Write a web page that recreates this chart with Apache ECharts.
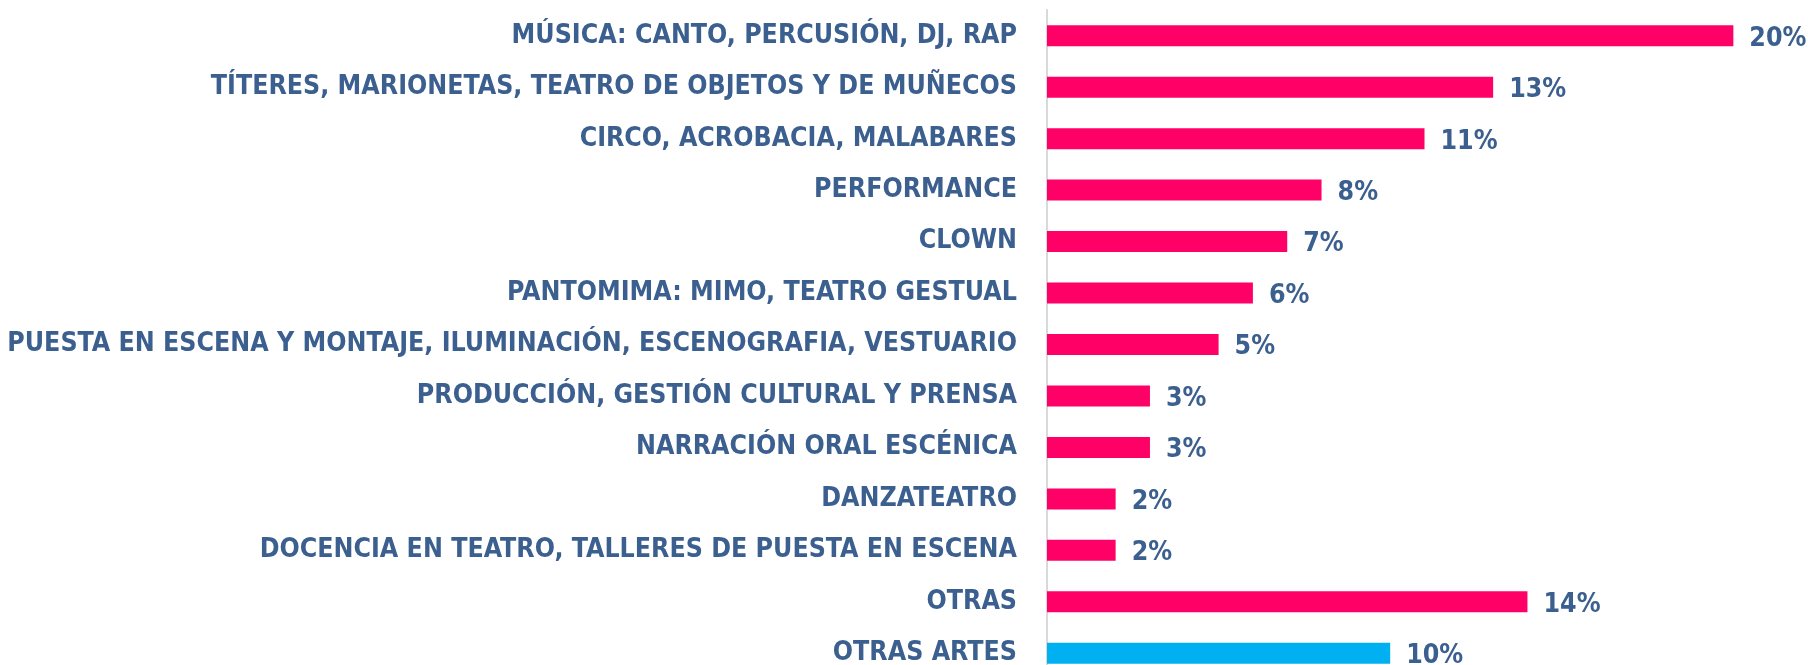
<!DOCTYPE html>
<html>
<head>
<meta charset="utf-8">
<script src="https://cdn.jsdelivr.net/npm/echarts@6/dist/echarts.min.js"></script>
<style>
  html, body { margin: 0; padding: 0; background: #fff; }
  #graph { width: 1808px; height: 665px; }
</style>
</head>
<body>
<div id="graph"></div>
<script>
// categorías (de arriba hacia abajo) y porcentajes
var categorias = [
    'MÚSICA: CANTO, PERCUSIÓN, DJ, RAP',
    'TÍTERES, MARIONETAS, TEATRO DE OBJETOS Y DE MUÑECOS',
    'CIRCO, ACROBACIA, MALABARES',
    'PERFORMANCE',
    'CLOWN',
    'PANTOMIMA: MIMO, TEATRO GESTUAL',
    'PUESTA EN ESCENA Y MONTAJE, ILUMINACIÓN, ESCENOGRAFIA, VESTUARIO',
    'PRODUCCIÓN, GESTIÓN CULTURAL Y PRENSA',
    'NARRACIÓN ORAL ESCÉNICA',
    'DANZATEATRO',
    'DOCENCIA EN TEATRO, TALLERES DE PUESTA EN ESCENA',
    'OTRAS',
    'OTRAS ARTES'
];
var valores = [20, 13, 11, 8, 7, 6, 5, 3, 3, 2, 2, 14, 10];
// la última barra va en otro color
var destacados = ['OTRAS ARTES'];

var fuente = '"DejaVu Sans Condensed", "Liberation Sans Narrow", sans-serif';
var azulTexto = '#3B5F8F';

var myChart = echarts.init(document.getElementById('graph'));

var datos = [];
for (var i = 0; i < valores.length; i++) {
    datos.push({
        value: valores[i],
        itemStyle: { color: destacados.indexOf(categorias[i]) >= 0 ? '#00B0F0' : '#FF0066' }
    });
}

option = {
    animation: false,
    // la última fila queda cortada por el borde inferior, como en el original
    grid: { left: 1047, width: 755, top: 10, height: 669, containLabel: false, outerBoundsMode: 'none' },
    xAxis: {
        type: 'value',
        min: 0,
        max: 22,
        show: false
    },
    yAxis: {
        type: 'category',
        inverse: true,
        data: categorias,
        axisTick: { show: false },
        axisLine: { show: true, lineStyle: { color: '#D9D9D9', width: 2 } },
        axisLabel: {
            margin: 30,
            color: azulTexto,
            fontFamily: fuente,
            fontWeight: 'bold',
            fontSize: 26.5
        }
    },
    series: [{
        type: 'bar',
        data: datos,
        barWidth: 21,
        label: {
            show: true,
            position: 'right',
            distance: 16,
            formatter: '{c}%',
            color: azulTexto,
            fontFamily: fuente,
            fontWeight: 'bold',
            fontSize: 26.5,
            offset: [0, 3]
        }
    }]
};

myChart.setOption(option);
</script>
</body>
</html>
